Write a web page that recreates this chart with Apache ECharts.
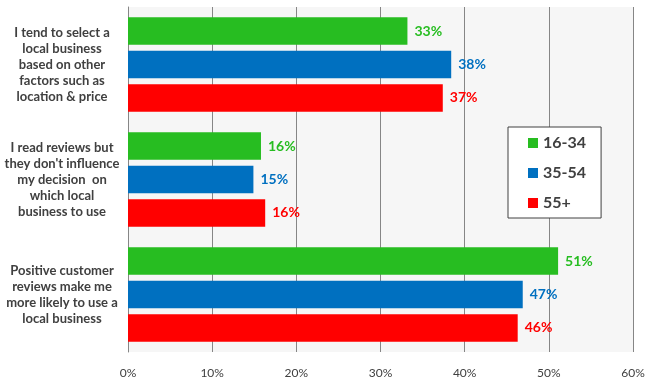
<!DOCTYPE html>
<html>
<head>
<meta charset="utf-8">
<script src="https://cdn.jsdelivr.net/npm/echarts@6/dist/echarts.min.js"></script>
<style>html,body{margin:0;padding:0;background:#fff;}#c{width:649px;height:386px;}</style>
</head>
<body>
<div id="c"></div>
<script>
const categories = [
  "I tend to select a\nlocal business\nbased on other\nfactors such as\nlocation & price",
  "I read reviews but\nthey don't influence\nmy decision  on\nwhich local\nbusiness to use",
  "Positive customer\nreviews make me\nmore likely to use a\nlocal business"
];
const seriesNames = ["16-34", "35-54", "55+"];
const values1634 = [33.2, 15.8, 51.1];
const values3554 = [38.4, 14.9, 46.9];
const values55 = [37.4, 16.3, 46.3];
const colors = ["#27bd21", "#0070c0", "#ff0000"];
const xTicks = [0, 10, 20, 30, 40, 50, 60];

const font = "Lato, 'Open Sans', sans-serif";
const chart = echarts.init(document.getElementById('c'));
const allValues = [values1634, values3554, values55];
chart.setOption({
  animation: false,
  grid: {left: 128, right: 16, top: 7, bottom: 34, show: true, backgroundColor: '#f6f6f6', borderWidth: 0},
  legend: {
    orient: 'vertical', left: 508, top: 127,
    padding: [8, 15, 7, 20], itemGap: 14,
    itemWidth: 10, itemHeight: 10, icon: 'rect',
    backgroundColor: '#fff', borderColor: '#404040', borderWidth: 1,
    textStyle: {fontFamily: font, fontSize: 16, fontWeight: 'bold', color: '#404040', lineHeight: 16},
    data: seriesNames
  },
  xAxis: {
    type: 'value', min: xTicks[0], max: xTicks[xTicks.length - 1], interval: 10,
    axisLine: {show: false}, axisTick: {show: false},
    splitLine: {show: true, lineStyle: {color: '#868686', width: 1}},
    axisLabel: {formatter: '{value}%', margin: 15, fontFamily: font, fontSize: 12, color: '#404040'}
  },
  yAxis: {
    type: 'category', inverse: true, data: categories,
    axisLine: {show: true, lineStyle: {color: '#868686'}}, axisTick: {show: false},
    axisLabel: {align: 'center', margin: 66, fontFamily: font, fontSize: 13, fontWeight: 'bold', color: '#404040', lineHeight: 16}
  },
  series: seriesNames.map((n, i) => ({
    name: n, type: 'bar', data: allValues[i],
    barGap: '22%', barCategoryGap: '18%',
    itemStyle: {color: colors[i]},
    label: {show: true, position: 'right', distance: 7, color: colors[i], fontFamily: font, fontSize: 14, fontWeight: 'bold',
      formatter: p => Math.round(p.value) + '%'}
  }))
});
</script>
</body>
</html>
